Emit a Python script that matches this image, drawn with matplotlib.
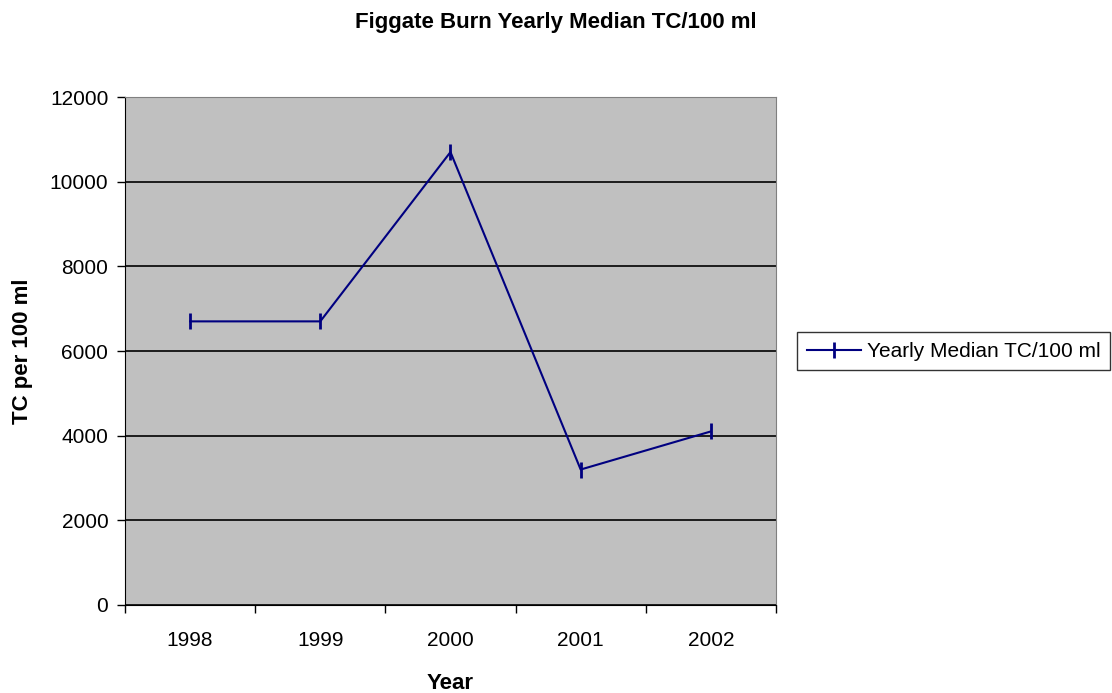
import matplotlib
matplotlib.use('Agg')
import matplotlib.pyplot as plt

years = ['1998', '1999', '2000', '2001', '2002']
median_tc = [6700, 6700, 10700, 3200, 4100]

plt.rcParams['font.family'] = ['Liberation Sans', 'DejaVu Sans']

fig = plt.figure(figsize=(11.12, 6.93), dpi=100)
ax = fig.add_axes([0.1124, 0.127, 0.5854, 0.733])
ax.set_facecolor('#c0c0c0')

x = range(len(years))
line, = ax.plot(x, median_tc, color='#000080', lw=1.5, marker='|', ms=11, mew=2,
                label='Yearly Median TC/100 ml', zorder=3)

ax.set_xlim(-0.5, len(years) - 0.5)
ax.set_ylim(0, 12000)
ax.set_yticks(range(0, 12001, 2000))
ax.set_xticks(x)
ax.set_xticklabels(years)
ax.set_xticks([i - 0.5 for i in range(len(years) + 1)], minor=True)
ax.tick_params(axis='x', which='major', length=0, pad=19, labelsize=15)
ax.tick_params(axis='x', which='minor', length=6, direction='out', width=1)
ax.tick_params(axis='y', length=6, direction='out', width=1, labelsize=15, pad=6)
ax.yaxis.grid(True, color='black', lw=1.2)
ax.set_axisbelow(True)

for s in ['top', 'right']:
    ax.spines[s].set_color('#808080')
for s in ['left', 'bottom']:
    ax.spines[s].set_color('black')

ax.set_xlabel('Year', fontsize=16, fontweight='bold', labelpad=16)
ax.set_ylabel('TC per 100 ml', fontsize=16, fontweight='bold', labelpad=12)
fig.text(0.5, 0.968, 'Figgate Burn Yearly Median TC/100 ml', ha='center', va='center',
         fontsize=16, fontweight='bold')

leg = fig.legend(handles=[line], loc='center left', bbox_to_anchor=(0.717, 0.493),
                 borderaxespad=0, frameon=True, fancybox=False, fontsize=15,
                 handlelength=2.6, borderpad=0.45, handletextpad=0.3)
leg.get_frame().set_edgecolor('black')
leg.get_frame().set_linewidth(1)

plt.savefig('out.png', dpi=100)
